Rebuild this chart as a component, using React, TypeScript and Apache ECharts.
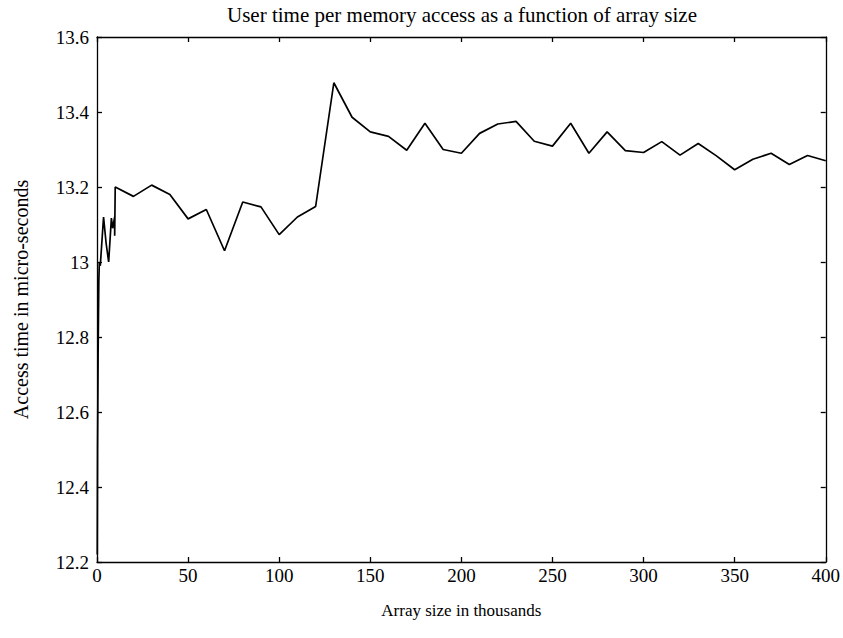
import React, { useEffect, useRef } from "react";
import * as echarts from "echarts";

const titleText = "User time per memory access as a function of array size";
const xName = "Array size in thousands";
const yName = "Access time in micro-seconds";

// Dense start (array size in thousands)
const earlyX = [0.15, 0.3, 0.45, 0.6, 0.8, 1.0, 1.3, 1.8, 3.6, 5.0, 6.4, 7.9, 8.6, 9.7, 9.7];
const earlyY = [12.22, 12.5, 12.62, 12.75, 12.85, 12.95, 13.0, 12.99, 13.12, 13.05, 13.0, 13.117, 13.09, 13.12, 13.07];

// Regular samples every 10 thousand
const sizes = [
  10, 20, 30, 40, 50, 60, 70, 80, 90, 100,
  110, 120, 130, 140, 150, 160, 170, 180, 190, 200,
  210, 220, 230, 240, 250, 260, 270, 280, 290, 300,
  310, 320, 330, 340, 350, 360, 370, 380, 390, 400,
];
const times = [
  13.2, 13.175, 13.205, 13.18, 13.115, 13.14, 13.03, 13.16, 13.147, 13.073,
  13.12, 13.148, 13.478, 13.386, 13.347, 13.335, 13.298, 13.37, 13.3, 13.29,
  13.343, 13.368, 13.375, 13.322, 13.309, 13.37, 13.29, 13.347, 13.297, 13.292,
  13.321, 13.285, 13.316, 13.283, 13.246, 13.274, 13.29, 13.26, 13.284, 13.27,
];

const xTicks = { min: 0, max: 400, interval: 50 };
const yTicks = { min: 12.2, max: 13.6, interval: 0.2 };

export default function App() {
  const ref = useRef<HTMLDivElement>(null);
  useEffect(() => {
    if (!ref.current) return;
    const chart = echarts.init(ref.current, undefined, { renderer: "svg" });
    const data: [number, number][] = [];
    earlyX.forEach((x, i) => data.push([x, earlyY[i]]));
    sizes.forEach((x, i) => data.push([x, times[i]]));
    const font = "'Liberation Serif', 'Times New Roman', serif";
    const axisCommon = {
      axisLine: { show: true, onZero: false, lineStyle: { color: "#000", width: 1.3 } },
      axisTick: { show: true, inside: true, length: 5, lineStyle: { color: "#000", width: 1.3 } },
      splitLine: { show: false },
    };
    chart.setOption({
      animation: false,
      backgroundColor: "#fff",
      title: {
        text: titleText,
        left: 462,
        top: 4,
        padding: 0,
        textAlign: "center",
        textStyle: { fontFamily: font, fontSize: 21, fontWeight: "normal", color: "#000" },
      },
      grid: { left: 97, right: 17, top: 37, bottom: 76, containLabel: false },
      xAxis: [
        {
          type: "value",
          position: "bottom",
          ...xTicks,
          name: xName,
          nameLocation: "middle",
          nameGap: 40,
          nameTextStyle: { fontFamily: font, fontSize: 17, color: "#000" },
          axisLabel: { fontFamily: font, fontSize: 19, color: "#000", margin: 4 },
          ...axisCommon,
        },
        {
          type: "value",
          position: "top",
          ...xTicks,
          axisLabel: { show: false },
          ...axisCommon,
        },
      ],
      yAxis: [
        {
          type: "value",
          position: "left",
          ...yTicks,
          name: yName,
          nameLocation: "middle",
          nameGap: 66,
          nameTextStyle: { fontFamily: font, fontSize: 20, color: "#000" },
          axisLabel: {
            fontFamily: font,
            fontSize: 19,
            color: "#000",
            margin: 8,
            formatter: (v: number) => String(+v.toFixed(1)),
          },
          ...axisCommon,
        },
        {
          type: "value",
          position: "right",
          ...yTicks,
          axisLabel: { show: false },
          ...axisCommon,
        },
      ],
      series: [
        {
          type: "line",
          data,
          showSymbol: false,
          symbol: "none",
          lineStyle: { color: "#000", width: 1.7 },
        },
      ],
    });
    return () => chart.dispose();
  }, []);
  return (
    <div
      ref={ref}
      style={{ position: "absolute", left: 0, top: 0, width: 843, height: 638 }}
    />
  );
}
